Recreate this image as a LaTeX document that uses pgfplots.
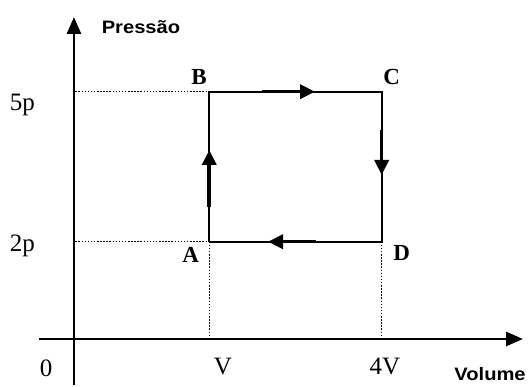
\documentclass[border=0pt]{standalone}
\usepackage{fontspec}
\setmainfont{Liberation Serif}
\newfontfamily\labelsans{Liberation Sans}
\usepackage{pgfplots}
\pgfplotsset{compat=1.18}
\usetikzlibrary{arrows.meta}

\begin{document}
\begin{tikzpicture}
\begin{axis}[
    width=529pt, height=385pt,
    scale only axis,
    axis lines=none,
    xmin=-2.641, xmax=6.563,
    ymin=-0.866, ymax=6.834,
    clip=false,
]
\path (rel axis cs:0,0) rectangle (rel axis cs:1,1);
% axes
\addplot[black, line width=2.8pt, -{Triangle[length=17pt,width=14pt]}] coordinates {(-1.354,-0.866) (-1.354,6.494)};
\addplot[black, line width=2.8pt, -{Triangle[length=17pt,width=14pt]}] coordinates {(-1.962,0.054) (6.459,0.054)};
% dotted guides
\addplot[black, line width=1.5pt, dash pattern=on 1.5pt off 1.6pt] coordinates {(-1.33,5) (1,5)};
\addplot[black, line width=1.5pt, dash pattern=on 1.5pt off 1.6pt] coordinates {(-1.33,2) (1,2)};
\addplot[black, line width=1.5pt, dash pattern=on 1.5pt off 1.6pt] coordinates {(1,2) (1,0.054)};
\addplot[black, line width=1.5pt, dash pattern=on 1.5pt off 1.6pt] coordinates {(4,2) (4,0.054)};
% cycle A-B-C-D
\addplot[black, line width=2.2pt, line join=miter] coordinates {(1,2) (1,5) (4,5) (4,2) (1,2)};
% direction arrows
\addplot[black, line width=3.6pt, -{Triangle[length=15pt,width=14pt]}] coordinates {(1,2.7) (1,3.834)};
\addplot[black, line width=3.6pt, -{Triangle[length=15pt,width=14pt]}] coordinates {(1.912,5) (2.84,5)};
\addplot[black, line width=3.6pt, -{Triangle[length=15pt,width=14pt]}] coordinates {(4,4.234) (4,3.334)};
\addplot[black, line width=3.6pt, -{Triangle[length=15pt,width=14pt]}] coordinates {(2.857,2) (2.022,2)};
% labels
\node[anchor=base, inner sep=0pt] at (axis cs:-0.188,6.154) {\scalebox{1.12}[1]{\labelsans\fontsize{18}{20}\selectfont\bfseries Pressão}};
\node[anchor=base, inner sep=0pt] at (axis cs:5.885,-0.786) {\scalebox{1.12}[1]{\labelsans\fontsize{18}{20}\selectfont\bfseries Volume}};
\node[anchor=base, inner sep=0pt, font=\fontsize{25}{28}\selectfont] at (axis cs:-2.25,4.614) {5p};
\node[anchor=base, inner sep=0pt, font=\fontsize{25}{28}\selectfont] at (axis cs:-2.25,1.8) {2p};
\node[anchor=base, inner sep=0pt, font=\fontsize{25}{28}\selectfont] at (axis cs:-1.84,-0.706) {0};
\node[anchor=base, inner sep=0pt, font=\fontsize{25}{28}\selectfont] at (axis cs:1.239,-0.666) {V};
\node[anchor=base, inner sep=0pt, font=\fontsize{25}{28}\selectfont] at (axis cs:4.058,-0.666) {4V};
\node[inner sep=0pt, font=\fontsize{23}{26}\selectfont\bfseries] at (axis cs:0.822,5.294) {B};
\node[inner sep=0pt, font=\fontsize{23}{26}\selectfont\bfseries] at (axis cs:4.174,5.3) {C};
\node[inner sep=0pt, font=\fontsize{23}{26}\selectfont\bfseries] at (axis cs:0.677,1.734) {A};
\node[inner sep=0pt, font=\fontsize{23}{26}\selectfont\bfseries] at (axis cs:4.348,1.774) {D};
\end{axis}
\end{tikzpicture}
\end{document}
